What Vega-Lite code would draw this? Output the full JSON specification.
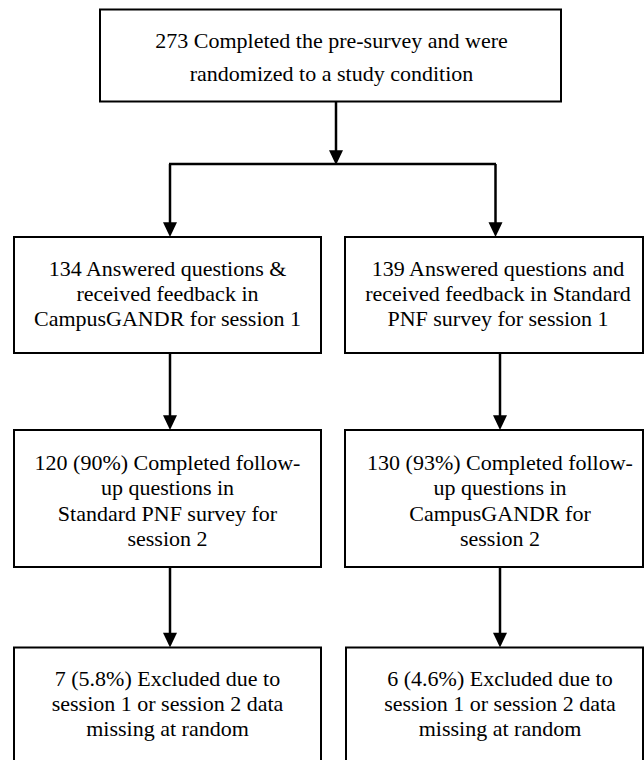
{
  "$schema": "https://vega.github.io/schema/vega-lite/v6.json",
  "width": 644,
  "height": 760,
  "autosize": "none",
  "padding": 0,
  "background": "white",
  "config": {"view": {"stroke": null}},
  "datasets": {
    "boxes": [
      {"id": "top", "x1": 100, "x2": 561, "y1": 9.5, "y2": 101.5},
      {"id": "l2", "x1": 14, "x2": 321, "y1": 237, "y2": 353},
      {"id": "r2", "x1": 345, "x2": 643, "y1": 237, "y2": 353},
      {"id": "l3", "x1": 14, "x2": 321, "y1": 430, "y2": 567},
      {"id": "r3", "x1": 345, "x2": 643, "y1": 430, "y2": 567},
      {"id": "l4", "x1": 14, "x2": 321, "y1": 647.5, "y2": 780},
      {"id": "r4", "x1": 346, "x2": 643, "y1": 647.5, "y2": 780}
    ],
    "lines": [
      {"x1": 336, "x2": 336, "y1": 101.5, "y2": 160},
      {"x1": 169, "x2": 496, "y1": 164, "y2": 164},
      {"x1": 170, "x2": 170, "y1": 164, "y2": 232},
      {"x1": 495.5, "x2": 495.5, "y1": 164, "y2": 232},
      {"x1": 170, "x2": 170, "y1": 353, "y2": 425},
      {"x1": 500, "x2": 500, "y1": 353, "y2": 425},
      {"x1": 170, "x2": 170, "y1": 567, "y2": 642},
      {"x1": 500, "x2": 500, "y1": 567, "y2": 642}
    ],
    "arrows": [
      {"x": 336, "y": 165},
      {"x": 170, "y": 237},
      {"x": 495.5, "y": 237},
      {"x": 170, "y": 430},
      {"x": 500, "y": 430},
      {"x": 170, "y": 647.5},
      {"x": 500, "y": 647.5}
    ],
    "topLabel": [
      {"x": 331.5, "y": 47.5, "text": "273 Completed the pre-survey and were\nrandomized to a study condition"}
    ],
    "labels": [
      {"x": 167.5, "y": 275.5, "text": "134 Answered questions &\nreceived feedback in\nCampusGANDR for session 1"},
      {"x": 498, "y": 275.5, "text": "139 Answered questions and\nreceived feedback in Standard\nPNF survey for session 1"},
      {"x": 167.5, "y": 470, "text": "120 (90%) Completed follow-\nup questions in\nStandard PNF survey for\nsession 2"},
      {"x": 500, "y": 470, "text": "130 (93%) Completed follow-\nup questions in\nCampusGANDR for\nsession 2"},
      {"x": 167.5, "y": 685.5, "text": "7 (5.8%) Excluded due to\nsession 1 or session 2 data\nmissing at random"},
      {"x": 500, "y": 685.5, "text": "6 (4.6%) Excluded due to\nsession 1 or session 2 data\nmissing at random"}
    ]
  },
  "layer": [
    {
      "data": {"name": "boxes"},
      "mark": {"type": "rect", "fill": "white", "stroke": "black", "strokeWidth": 2, "clip": true},
      "encoding": {
        "x": {"field": "x1", "type": "quantitative", "scale": {"domain": [0, 644], "nice": false, "zero": false}, "axis": null},
        "x2": {"field": "x2"},
        "y": {"field": "y1", "type": "quantitative", "scale": {"domain": [0, 760], "nice": false, "zero": false, "reverse": true}, "axis": null},
        "y2": {"field": "y2"}
      }
    },
    {
      "data": {"name": "lines"},
      "mark": {"type": "rule", "stroke": "black", "strokeWidth": 2.5},
      "encoding": {
        "x": {"field": "x1", "type": "quantitative", "scale": {"domain": [0, 644], "nice": false, "zero": false}, "axis": null},
        "x2": {"field": "x2"},
        "y": {"field": "y1", "type": "quantitative", "scale": {"domain": [0, 760], "nice": false, "zero": false, "reverse": true}, "axis": null},
        "y2": {"field": "y2"}
      }
    },
    {
      "data": {"name": "arrows"},
      "mark": {"type": "point", "shape": "M-1,-2.1L1,-2.1L0,0Z", "size": 196, "filled": true, "fill": "black", "stroke": null, "opacity": 1},
      "encoding": {
        "x": {"field": "x", "type": "quantitative", "scale": {"domain": [0, 644], "nice": false, "zero": false}, "axis": null},
        "y": {"field": "y", "type": "quantitative", "scale": {"domain": [0, 760], "nice": false, "zero": false, "reverse": true}, "axis": null}
      }
    },
    {
      "data": {"name": "topLabel"},
      "mark": {"type": "text", "font": "Liberation Serif", "fontSize": 22, "lineHeight": 33, "lineBreak": "\n", "align": "center", "baseline": "alphabetic", "color": "black"},
      "encoding": {
        "x": {"field": "x", "type": "quantitative", "scale": {"domain": [0, 644], "nice": false, "zero": false}, "axis": null},
        "y": {"field": "y", "type": "quantitative", "scale": {"domain": [0, 760], "nice": false, "zero": false, "reverse": true}, "axis": null},
        "text": {"field": "text", "type": "nominal"}
      }
    },
    {
      "data": {"name": "labels"},
      "mark": {"type": "text", "font": "Liberation Serif", "fontSize": 22, "lineHeight": 25.3, "lineBreak": "\n", "align": "center", "baseline": "alphabetic", "color": "black"},
      "encoding": {
        "x": {"field": "x", "type": "quantitative", "scale": {"domain": [0, 644], "nice": false, "zero": false}, "axis": null},
        "y": {"field": "y", "type": "quantitative", "scale": {"domain": [0, 760], "nice": false, "zero": false, "reverse": true}, "axis": null},
        "text": {"field": "text", "type": "nominal"}
      }
    }
  ]
}
